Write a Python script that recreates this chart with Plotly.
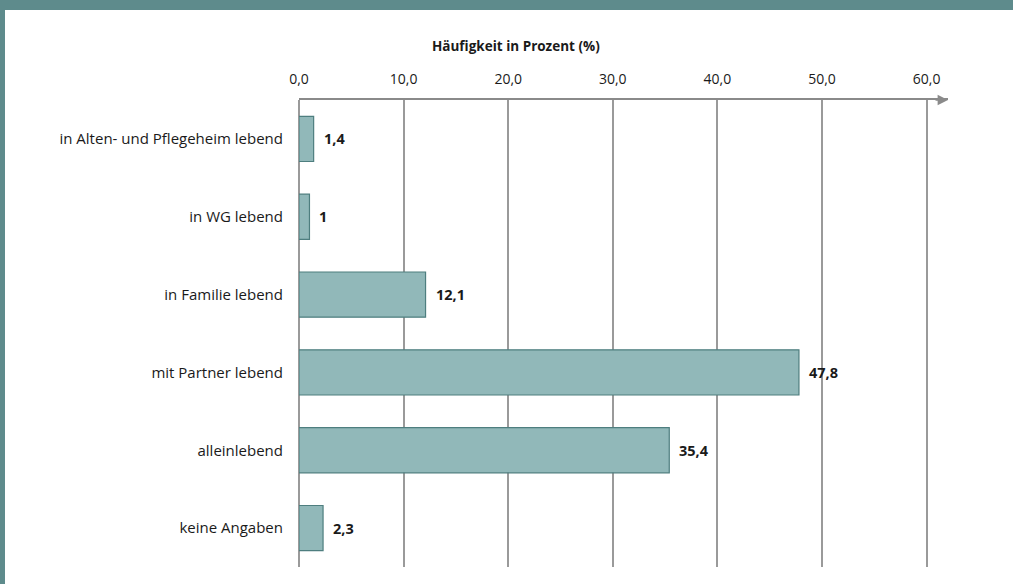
import plotly.graph_objects as go

categories = [
    "in Alten- und Pflegeheim lebend",
    "in WG lebend",
    "in Familie lebend",
    "mit Partner lebend",
    "alleinlebend",
    "keine Angaben",
]
values = [1.4, 1, 12.1, 47.8, 35.4, 2.3]
tick_vals = [0, 10, 20, 30, 40, 50, 60]
tick_text = ["0,0", "10,0", "20,0", "30,0", "40,0", "50,0", "60,0"]
axis_title = "Häufigkeit in Prozent (%)"

FONT = "Open Sans"
TXT = "#1a1a1a"
GRID = "#9a9a9a"
TEAL = "#5e8b8c"

W, H = 1013, 584
L, R, T, B = 299, 65, 100, 17
pw, ph = W - L - R, H - T - B

fig = go.Figure(go.Bar(
    x=values, y=categories, orientation="h",
    width=0.58,
    marker=dict(color="#91b8b9", line=dict(color="#4e7e7f", width=1.2)),
    hoverinfo="skip",
))

annotations = []
for c, v in zip(categories, values):
    annotations.append(dict(
        x=v, y=c, xref="x", yref="y", text=str(v).replace(".", ","),
        showarrow=False, xanchor="left", xshift=8,
        font=dict(family=FONT, size=14.5, color=TXT, weight="bold"),
    ))
# axis title
annotations.append(dict(
    x=(516 - L) / pw, y=1 + (100 - 46) / ph, xref="paper", yref="paper",
    xanchor="center", yanchor="middle",
    text="<b>" + axis_title + "</b>", showarrow=False,
    font=dict(family=FONT, size=13.5, color=TXT),
))
# arrow head on top axis
annotations.append(dict(
    x=1, y=1, xref="paper", yref="paper", text="",
    showarrow=True, ax=-14, ay=0, arrowhead=2, arrowsize=1.3,
    arrowwidth=1.6, arrowcolor="#8a8a8a", standoff=0,
))

shapes = [
    dict(type="rect", xref="paper", yref="paper",
         x0=-L / pw, x1=1 + R / pw, y0=1 + (T - 10) / ph, y1=1 + T / ph,
         fillcolor=TEAL, line=dict(width=0), layer="above"),
    dict(type="rect", xref="paper", yref="paper",
         x0=-L / pw, x1=(5 - L) / pw, y0=-B / ph, y1=1 + T / ph,
         fillcolor=TEAL, line=dict(width=0), layer="above"),
]

fig.update_layout(
    width=W, height=H,
    margin=dict(l=L, r=R, t=T, b=B, pad=0),
    paper_bgcolor="white", plot_bgcolor="white",
    showlegend=False,
    annotations=annotations,
    shapes=shapes,
    xaxis=dict(
        side="top", range=[0, 62.05], tickvals=tick_vals, ticktext=tick_text,
        showgrid=True, gridcolor=GRID, gridwidth=1.5,
        showline=True, linecolor="#8a8a8a", linewidth=2,
        zeroline=True, zerolinecolor=GRID, zerolinewidth=1.5,
        ticks="outside", ticklen=8, tickcolor="rgba(0,0,0,0)",
        tickfont=dict(family=FONT, size=14, color=TXT),
        fixedrange=True,
    ),
    yaxis=dict(
        categoryorder="array", categoryarray=categories, autorange="reversed",
        showgrid=False, showline=False, zeroline=False,
        ticks="outside", ticklen=12, tickcolor="rgba(0,0,0,0)",
        tickfont=dict(family=FONT, size=15, color=TXT),
        fixedrange=True,
    ),
)

fig.write_html(
    "out.html",
    config={"displayModeBar": False},
    post_script="document.body.style.margin='0';document.body.style.overflow='hidden';",
)
